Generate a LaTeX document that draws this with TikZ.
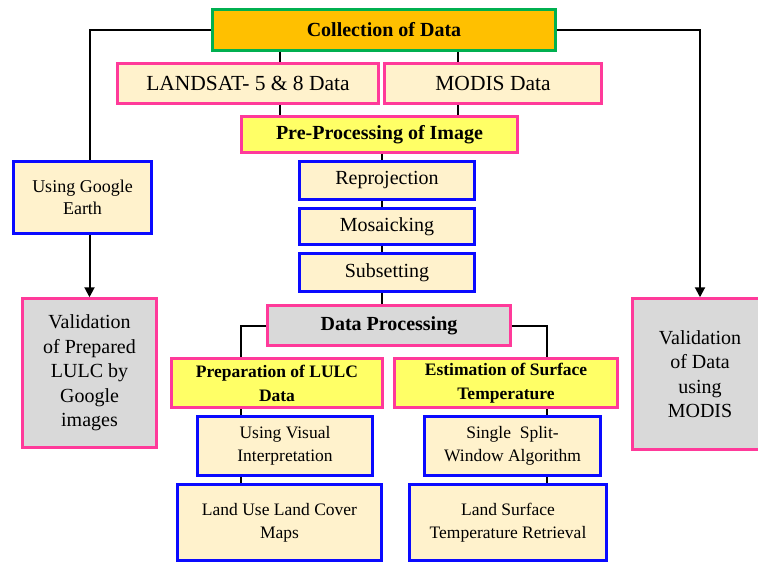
\documentclass[tikz,border=0pt]{standalone}
\usepackage{fontspec}
\setmainfont{Liberation Serif}
\usetikzlibrary{arrows.meta}
\definecolor{orangefill}{HTML}{FFC000}
\definecolor{greenline}{HTML}{00B050}
\definecolor{pinkline}{HTML}{FF3A9A}
\definecolor{creamfill}{HTML}{FFF2CC}
\definecolor{yellowfill}{HTML}{FFFF66}
\definecolor{blueline}{HTML}{0A0AFF}
\definecolor{grayfill}{HTML}{D9D9D9}
\begin{document}
\begin{tikzpicture}[x=1pt,y=-1pt,
  box/.style={line width=2.5pt,inner sep=0pt,align=center},
  wh/.style 2 args={minimum width=#1,minimum height=#2},
  pinkbox/.style={box,draw=pinkline},
  bluebox/.style={box,draw=blueline,fill=creamfill},
  bigtxt/.style={font=\fontsize{21.5}{25}\selectfont},
  midtxt/.style={font=\fontsize{20}{24.5}\selectfont},
  smalltxt/.style={font=\fontsize{17.5}{23}\selectfont},
  headtxt/.style={font=\fontsize{20}{24}\selectfont\bfseries},
  subtxt/.style={font=\fontsize{17.5}{24}\selectfont\bfseries},
  link/.style={line width=2pt},
  arrow/.style={line width=2pt,-{Triangle[width=10pt,length=10pt]}}]
\useasboundingbox (0,0) rectangle (758,563);

% top of the chart
\node[box,draw=greenline,fill=orangefill,headtxt,wh={343pt}{41pt}] (collect) at (384,30) {Collection of Data};
\node[pinkbox,fill=creamfill,bigtxt,wh={261pt}{40pt}] (landsat) at (248,83.5) {LANDSAT- 5 \& 8 Data};
\node[pinkbox,fill=creamfill,bigtxt,wh={217pt}{40pt}] (modis) at (493,83.5) {MODIS Data};
\node[pinkbox,fill=yellowfill,headtxt,wh={276pt}{36pt}] (preproc) at (379.5,134.5) {Pre-Processing of Image};

% pre-processing steps
\node[bluebox,midtxt,wh={175pt}{38pt}] (reproj) at (387,180.5) {Reprojection};
\node[bluebox,midtxt,wh={175pt}{36pt}] (mosaic) at (387,226.5) {Mosaicking};
\node[bluebox,midtxt,wh={175pt}{38pt}] (subset) at (387,272.5) {Subsetting};
\node[pinkbox,fill=grayfill,headtxt,wh={243pt}{40pt}] (dataproc) at (389,325.5) {Data Processing};

% two branches
\node[pinkbox,fill=yellowfill,subtxt,wh={211pt}{49pt}] (lulc) at (277,383) {Preparation of LULC\\Data};
\node[pinkbox,fill=yellowfill,subtxt,wh={223pt}{49pt}] (lst) at (506,383) {Estimation of Surface\\Temperature};
\node[bluebox,smalltxt,wh={175pt}{59pt}] (visual) at (285,446) {Using Visual\\Interpretation};
\node[bluebox,smalltxt,wh={176pt}{59pt}] (split) at (512.5,446) {Single~~Split-\\Window Algorithm};
\node[bluebox,smalltxt,wh={204pt}{76pt}] (maps) at (279.5,522.5) {Land Use Land Cover\\Maps};
\node[bluebox,smalltxt,wh={197pt}{76pt}] (retrieval) at (508,522.5) {Land Surface\\Temperature Retrieval};

% validation
\node[bluebox,font=\fontsize{18}{22.5}\selectfont,wh={138pt}{72pt}] (google) at (82.5,197.5) {Using Google\\Earth};
\node[pinkbox,fill=grayfill,midtxt,wh={134pt}{149pt}] (vallulc) at (89.5,373) {Validation\\of Prepared\\LULC by\\Google\\images};
\node[pinkbox,fill=grayfill,midtxt,wh={135pt}{151pt}] (valmodis) at (700,374) {Validation\\of Data\\using\\MODIS};

% connectors
\coordinate (lcol) at (280,0);
\coordinate (rcol) at (458,0);
\coordinate (mcol) at (382,0);
\coordinate (acol) at (241,0);
\coordinate (bcol) at (547,0);
\draw[link] (lcol |- collect.south) -- (lcol |- landsat.north);
\draw[link] (rcol |- collect.south) -- (rcol |- modis.north);
\draw[link] (lcol |- landsat.south) -- (lcol |- preproc.north);
\draw[link] (rcol |- modis.south) -- (rcol |- preproc.north);
\draw[link] (mcol |- preproc.south) -- (mcol |- reproj.north);
\draw[link] (mcol |- reproj.south) -- (mcol |- mosaic.north);
\draw[link] (mcol |- mosaic.south) -- (mcol |- subset.north);
\draw[link] (mcol |- subset.south) -- (mcol |- dataproc.north);
\draw[link] (dataproc.west) -| (acol |- lulc.north);
\draw[link] (dataproc.east) -| (bcol |- lst.north);
\draw[link] (acol |- lulc.south) -- (acol |- visual.north);
\draw[link] (acol |- visual.south) -- (acol |- maps.north);
\draw[link] (bcol |- lst.south) -- (bcol |- split.north);
\draw[link] (bcol |- split.south) -- (bcol |- retrieval.north);
\draw[link] (collect.west) -| (vallulc.north |- google.north);
\draw[arrow] (vallulc.north |- google.south) -- (vallulc.north);
\draw[arrow] (collect.east) -| (valmodis.north);
\end{tikzpicture}
\end{document}
